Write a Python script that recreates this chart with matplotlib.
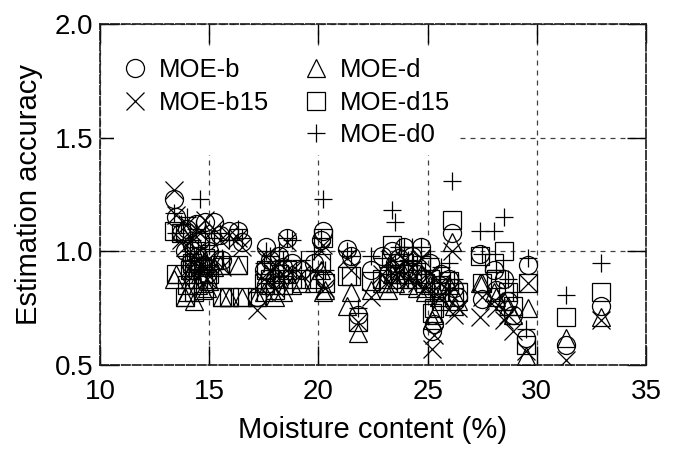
import matplotlib
matplotlib.use("Agg")
import matplotlib.pyplot as plt
from matplotlib.lines import Line2D

plt.rcParams['font.family'] = ['Liberation Sans', 'DejaVu Sans']

# Moisture content (%) of each specimen
moisture = [13.4, 13.5, 13.7, 13.9, 14.0, 14.1, 14.2, 14.3, 14.4, 14.5, 14.6, 14.7, 14.8, 14.9, 15.0, 15.2,
            15.5, 15.6, 15.9, 16.3, 16.5,
            17.2, 17.5, 17.6, 17.8, 18.0, 18.2, 18.4, 18.55, 18.8, 19.2,
            19.8, 20.1, 20.2, 20.3,
            21.3, 21.5, 21.8, 22.4, 22.9,
            23.2, 23.35, 23.5, 23.7, 23.9, 24.1, 24.3, 24.5, 24.7, 24.9,
            25.1, 25.2, 25.3, 25.5, 25.6,
            26.0, 26.1, 26.2, 26.4,
            27.4, 27.5, 28.05, 28.15, 28.5, 28.7, 28.9,
            29.6, 29.5,
            31.35, 32.95]

moe_b = [1.23, 1.15, 1.08, 1.00, 1.10, 0.95, 1.03, 0.92, 1.12, 0.98, 1.05, 0.94, 1.13, 0.90, 1.00, 1.13,
         1.07, 0.96, 1.09, 1.09, 1.04,
         0.80, 0.92, 1.02, 0.96, 0.88, 0.98, 0.93, 1.06, 0.95, 0.92,
         0.95, 1.05, 1.09, 0.88,
         1.01, 0.98, 0.72, 0.92, 0.98,
         0.90, 1.00, 0.95, 0.97, 1.02, 0.92, 0.98, 0.90, 1.02, 0.88,
         0.95, 0.65, 0.68, 0.85, 0.90,
         0.88, 1.08, 0.84, 0.80,
         0.99, 0.79, 0.92, 0.83, 0.88, 0.78, 0.72,
         0.94, 0.62,
         0.59, 0.76]

moe_b15 = [1.27, 1.16, 1.05, 1.02, 1.12, 0.93, 1.06, 0.90, 1.10, 0.96, 1.08, 0.92, 1.14, 0.88, 0.97, 1.10,
           1.05, 0.93, 1.07, 1.06, 1.02,
           0.74, 0.88, 0.98, 0.92, 0.84, 0.95, 0.90, 1.04, 0.92, 0.90,
           0.92, 1.00, 1.03, 0.84,
           0.97, 0.92, 0.69, 0.80, 0.90,
           0.87, 0.97, 0.92, 0.93, 0.96, 0.88, 0.93, 0.86, 0.97, 0.84,
           0.90, 0.57, 0.63, 0.80, 0.86,
           0.82, 1.00, 0.72, 0.75,
           0.71, 0.80, 0.78, 0.75, 0.70, 0.72, 0.65,
           0.86, 0.56,
           0.52, 0.70]

moe_d = [0.88, 0.90, 1.09, 0.80, 0.82, 0.88, 0.92, 0.78, 0.96, 0.85, 0.90, 0.83, 0.95, 0.84, 0.87, 0.93,
         0.94, 0.80, 0.80, 0.94, 0.80,
         0.80, 0.82, 0.90, 0.85, 0.80, 0.88, 0.82, 0.90, 0.85, 0.86,
         0.86, 0.92, 0.82, 0.83,
         0.76, 0.82, 0.64, 0.83, 0.86,
         0.83, 0.90, 0.86, 0.88, 0.90, 0.85, 0.88, 0.84, 0.90, 0.82,
         0.85, 0.70, 0.72, 0.80, 0.78,
         0.85, 1.04, 0.76, 0.78,
         0.86, 0.86, 0.82, 0.80, 0.78, 0.76, 0.72,
         0.75, 0.54,
         0.62, 0.71]

moe_d15 = [1.09, 0.90, 1.08, 0.80, 0.85, 0.92, 0.95, 0.82, 1.00, 0.88, 0.93, 0.86, 0.97, 0.88, 0.90, 0.96,
           0.94, 0.80, 0.80, 0.94, 0.80,
           0.80, 0.86, 0.92, 0.88, 0.83, 0.90, 0.85, 0.92, 0.88, 0.88,
           0.88, 0.95, 1.06, 0.86,
           0.89, 0.89, 0.69, 0.87, 0.88,
           0.86, 1.03, 0.90, 0.92, 0.95, 0.90, 0.92, 0.88, 0.94, 0.86,
           0.88, 0.73, 0.75, 0.82, 0.85,
           0.87, 1.14, 0.80, 0.82,
           0.98, 0.86, 0.95, 0.88, 1.00, 0.82, 0.76,
           0.86, 0.59,
           0.71, 0.82]

moe_d0 = [1.17, 1.08, 1.12, 0.98, 1.15, 1.00, 1.05, 0.94, 1.10, 1.02, 1.23, 0.96, 1.08, 0.92, 1.03, 1.06,
          1.08, 0.97, 1.05, 1.10, 1.06,
          0.82, 0.95, 1.00, 0.98, 0.92, 1.00, 0.96, 1.06, 1.05, 0.96,
          1.00, 1.06, 1.23, 0.92,
          1.00, 0.98, 0.75, 0.98, 0.97,
          0.93, 1.18, 1.13, 1.02, 1.02, 0.96, 1.02, 0.95, 1.02, 0.92,
          0.97, 0.78, 0.80, 0.88, 0.93,
          0.95, 1.31, 0.88, 0.86,
          1.09, 0.99, 1.09, 0.92, 1.15, 0.88, 0.82,
          0.97, 0.66,
          0.81, 0.95]

series_labels = ['MOE-b', 'MOE-b15', 'MOE-d', 'MOE-d15', 'MOE-d0']
series_markers = ['o', 'x', '^', 's', '+']
series_values = [moe_b, moe_b15, moe_d, moe_d15, moe_d0]

x_ticks = [10, 15, 20, 25, 30, 35]
y_ticks = [0.5, 1.0, 1.5, 2.0]

fig = plt.figure(figsize=(6.77, 4.51), dpi=100)
ax = fig.add_axes([100/677, 86/451, 546/677, 341/451])

handles = {}
for lab, mk, vals in zip(series_labels, series_markers, series_values):
    h, = ax.plot(moisture, vals, linestyle='none', marker=mk, markersize=13,
                 markerfacecolor='none', markeredgecolor='black', markeredgewidth=0.9,
                 color='black', label=lab)
    handles[lab] = h

ax.set_xlim(10, 35)
ax.set_ylim(0.5, 2.0)
ax.set_xticks(x_ticks)
ax.set_yticks(y_ticks)
ax.set_yticklabels([f"{v:.1f}" for v in y_ticks])
ax.set_xticklabels([str(v) for v in x_ticks])

ax.grid(True, linestyle=(0, (4, 4)), color='0.25', linewidth=0.9)
for s in ax.spines.values():
    s.set_linestyle((0, (5, 1.5)))
    s.set_linewidth(1.2)
    s.set_color('0.1')

ax.tick_params(direction='in', length=14, width=1.0, top=True, right=True,
               labelsize=20)
ax.tick_params(axis='x', pad=10)
ax.tick_params(axis='y', pad=5)

ax.set_xlabel('Moisture content (%)', fontsize=21, labelpad=8)
ax.set_ylabel('Estimation accuracy', fontsize=21, labelpad=8)

blank = Line2D([], [], linestyle='none', marker='none')
leg_handles = [handles['MOE-b'], handles['MOE-b15'], blank,
               handles['MOE-d'], handles['MOE-d15'], handles['MOE-d0']]
leg_labels = ['MOE-b', 'MOE-b15', '', 'MOE-d', 'MOE-d15', 'MOE-d0']
leg = ax.legend(leg_handles, leg_labels, ncol=2, loc='upper left',
                bbox_to_anchor=(0.026, 0.9226), frameon=True, fancybox=False,
                fontsize=18.5, handlelength=1.0, handletextpad=0.45,
                columnspacing=1.3, labelspacing=0.33, borderpad=0.3,
                borderaxespad=0)
leg.get_frame().set_facecolor('white')
leg.get_frame().set_edgecolor('none')
leg.get_frame().set_alpha(1.0)

fig.savefig('out.png', dpi=100)
